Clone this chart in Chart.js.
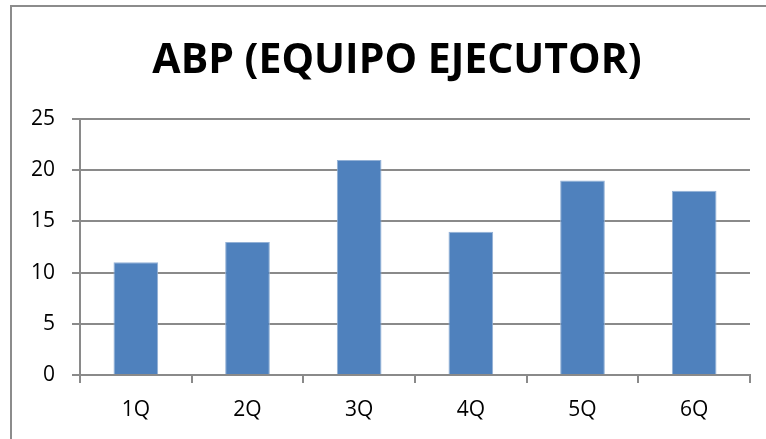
<!DOCTYPE html>
<html>
<head>
<meta charset="utf-8">
<script src="https://cdn.jsdelivr.net/npm/chart.js@4.4.0/dist/chart.umd.min.js"></script>
<style>
  html, body { margin: 0; padding: 0; background: #fff; overflow: hidden; }
  #wrap { width: 766px; height: 439px; }
</style>
</head>
<body>
<div id="wrap"><canvas id="chart" width="766" height="439"></canvas></div>
<script>
// --- Daten ---
const categories = ['1Q', '2Q', '3Q', '4Q', '5Q', '6Q'];
const values = [11, 13, 21, 14, 19, 18];
const titleText = 'ABP (EQUIPO EJECUTOR)';
const yTicks = [0, 5, 10, 15, 20, 25];

const GRID = '#8a8a8a';

// Hintergrund, Rahmen (nur links und oben sichtbar) und Titel
const framePlugin = {
  id: 'frame',
  beforeDraw(chart) {
    const ctx = chart.ctx;
    ctx.save();
    ctx.fillStyle = '#fff';
    ctx.fillRect(0, 0, chart.width, chart.height);
    ctx.strokeStyle = '#8c8c8c';
    ctx.lineWidth = 2;
    ctx.beginPath();
    ctx.moveTo(11, chart.height);
    ctx.lineTo(11, 6);
    ctx.lineTo(chart.width, 6);
    ctx.stroke();
    ctx.restore();
  },
  afterDraw(chart) {
    const ctx = chart.ctx;
    ctx.save();
    ctx.fillStyle = '#000';
    ctx.font = 'bold 41px "Open Sans"';
    ctx.textAlign = 'center';
    ctx.textBaseline = 'alphabetic';
    ctx.fillText(titleText, 397, 73);
    ctx.restore();
  }
};

new Chart(document.getElementById('chart'), {
  type: 'bar',
  data: {
    labels: categories,
    datasets: [{
      data: values,
      backgroundColor: '#4F81BD',
      borderColor: '#93b1d6',
      borderWidth: 1,
      barPercentage: 0.4,
      categoryPercentage: 1
    }]
  },
  options: {
    responsive: false,
    animation: false,
    layout: { padding: { top: 119, right: 16, left: 0, bottom: 0 } },
    plugins: { legend: { display: false }, tooltip: { enabled: false }, title: { display: false } },
    scales: {
      x: {
        afterFit: s => { s.height = 64; },
        grid: { display: true, drawOnChartArea: false, drawTicks: true, tickLength: 8, color: GRID, lineWidth: 2 },
        border: { display: true, color: GRID, width: 2 },
        ticks: { color: '#000', padding: 14, font: { family: 'Open Sans', size: 21 } }
      },
      y: {
        min: 0,
        max: 25,
        afterFit: s => { s.width = 80; },
        afterBuildTicks: s => { s.ticks = yTicks.map(v => ({ value: v })); },
        grid: { color: GRID, lineWidth: 2, tickLength: 8 },
        border: { display: true, color: GRID, width: 2 },
        ticks: { color: '#000', padding: 17, font: { family: 'Open Sans', size: 21 } }
      }
    }
  },
  plugins: [framePlugin]
});
</script>
</body>
</html>
